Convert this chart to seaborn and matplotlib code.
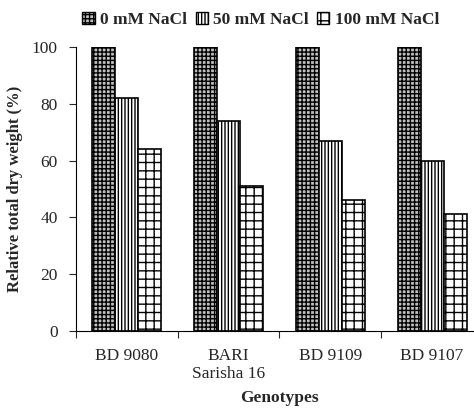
import pandas as pd
import matplotlib
matplotlib.use("Agg")
import matplotlib.pyplot as plt
import seaborn as sns
from matplotlib.patches import Patch

genotypes = ["BD 9080", "BARI\nSarisha 16", "BD 9109", "BD 9107"]
treatments = ["0 mM NaCl", "50 mM NaCl", "100 mM NaCl"]
values_0 = [100, 100, 100, 100]
values_50 = [82, 74, 67, 60]
values_100 = [64, 51, 46, 41]

df = pd.DataFrame({
    "genotype": genotypes * 3,
    "treatment": [treatments[0]] * 4 + [treatments[1]] * 4 + [treatments[2]] * 4,
    "value": values_0 + values_50 + values_100,
})

sns.set_theme(style="white")
plt.rcParams["font.family"] = ["Liberation Serif", "DejaVu Serif"]
plt.rcParams["hatch.linewidth"] = 1.0

fig = plt.figure(figsize=(4.74, 4.12), dpi=100)
ax = fig.add_axes([0.160, 0.197, 0.859, 0.689])

colors = ["#c0c0c0", "white", "white"]
sns.barplot(data=df, x="genotype", y="value", hue="treatment", order=genotypes,
            hue_order=treatments, width=0.68, ax=ax, legend=False,
            palette=colors, edgecolor="black", linewidth=1.2)

hatches = ["++++", "|||||", "++"]
for cont, h in zip(ax.containers, hatches):
    for bar in cont:
        bar.set_hatch(h)

ax.set_xlim(-0.5, 3.5)
ax.set_ylim(0, 100)
ax.set_yticks(range(0, 101, 20))
ax.tick_params(axis="y", direction="out", length=5, width=0.8, left=True, labelsize=12.5, pad=8)

ax.set_xticks([-0.5, 0.5, 1.5, 2.5], labels=[])
ax.set_xticks(range(4), labels=genotypes, minor=True)
ax.tick_params(axis="x", which="major", direction="out", length=5, width=0.8, bottom=True)
ax.tick_params(axis="x", which="minor", length=0, pad=12, labelsize=12.5)

for s in ["top", "right"]:
    ax.spines[s].set_visible(False)
for s in ["left", "bottom"]:
    ax.spines[s].set_color("black")
    ax.spines[s].set_linewidth(0.8)

ax.set_ylabel("Relative total dry weight (%)", fontweight="bold", fontsize=12, labelpad=6)
ax.set_xlabel("Genotypes", fontweight="bold", fontsize=12.5, labelpad=6)

handles = [Patch(facecolor=c, edgecolor="black", hatch=h) for c, h in zip(colors, hatches)]
fig.legend(handles, treatments, loc="upper center", bbox_to_anchor=(0.55, 1.01),
           ncol=3, frameon=False, prop={"weight": "bold", "size": 12.5},
           handlelength=0.7, handleheight=0.7, handletextpad=0.3, columnspacing=0.5)

fig.savefig("out.png", dpi=100)
